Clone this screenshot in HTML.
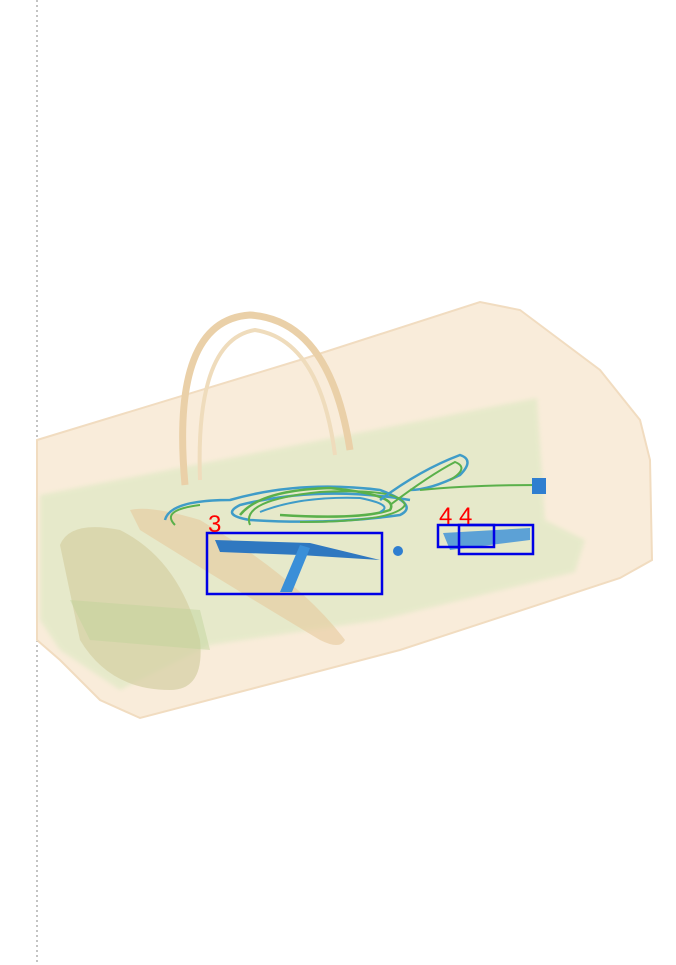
<!DOCTYPE html>
<html><head><meta charset="utf-8"><style>
html,body{margin:0;padding:0;background:#fff;width:676px;height:965px;overflow:hidden}
svg{display:block}
text{font-family:"Liberation Sans",sans-serif}
</style></head><body>
<svg width="676" height="965" viewBox="0 0 676 965">
<defs>
<filter id="blur1"><feGaussianBlur stdDeviation="2"/></filter>
</defs>
<line x1="37" y1="0" x2="37" y2="965" stroke="#888" stroke-width="1" stroke-dasharray="2 3"/>
<g>
<polygon points="37,440 300,360 480,302 520,310 600,370 640,420 650,460 652,560 620,578 400,650 140,718 100,700 60,660 37,640" fill="#f9ecda" stroke="#f1dcc0" stroke-width="2"/>
<polygon points="40,495 537,398 545,520 585,540 575,572 380,620 210,645 120,690 60,650 40,620" fill="#dfe9c4" opacity="0.7" filter="url(#blur1)"/>
<path d="M60,545 Q70,520 120,530 Q180,560 200,640 Q205,690 170,690 Q110,690 80,640 Z" fill="#d4cfa3" opacity="0.7"/>
<path d="M130,510 Q150,505 200,520 Q300,580 345,640 Q340,650 320,640 Q220,580 140,530 Z" fill="#e6c99c" opacity="0.6"/>
<path d="M70,600 L200,610 L210,650 L90,640 Z" fill="#bfd39a" opacity="0.45"/>
<path d="M185,485 Q170,320 250,315 Q330,320 350,450" fill="none" stroke="#ead0a8" stroke-width="7"/>
<path d="M200,480 Q195,340 255,330 Q320,340 335,455" fill="none" stroke="#efdcbc" stroke-width="4"/>
</g>
<g fill="none">
<path d="M165,520 Q170,500 230,500 Q300,480 380,490 Q420,505 400,515 Q330,525 250,520 Q220,515 240,505 Q320,485 410,500" stroke="#3f9cc8" stroke-width="2.5"/>
<path d="M240,515 Q260,490 330,488 Q400,495 390,510 Q360,520 280,515" stroke="#5ab04a" stroke-width="2.5"/>
<path d="M250,525 Q240,500 320,492 Q400,488 405,505 Q395,522 300,522" stroke="#5ab04a" stroke-width="2"/>
<path d="M260,512 Q300,496 360,498 Q395,505 380,512" stroke="#3f9cc8" stroke-width="2"/>
<path d="M175,525 Q160,510 200,505" stroke="#5ab04a" stroke-width="2"/>
<path d="M380,500 Q420,470 460,455 Q475,460 460,475 Q430,490 410,490" stroke="#3f9cc8" stroke-width="2.5"/>
<path d="M390,505 Q430,475 455,462 Q470,468 450,480" stroke="#5ab04a" stroke-width="2"/>
<path d="M420,490 Q470,485 540,485" stroke="#5ab04a" stroke-width="2"/>
<rect x="532" y="478" width="14" height="16" fill="#2f7ed0"/>
<circle cx="398" cy="551" r="5" fill="#2f7ed0"/>
</g>
<g>
<path d="M215,540 L310,543 L380,560 L300,555 L220,552 Z" fill="#2f78c0"/>
<path d="M300,545 L280,592 L292,592 L310,548 Z" fill="#3a8fd8"/>
</g>
<g>
<path d="M443,533 L530,528 L530,540 L450,550 Z" fill="#3a8fd8" opacity="0.8"/>
</g>
<g fill="none" stroke="#0000e6" stroke-width="2.5">
<rect x="207" y="533" width="175" height="61"/>
<rect x="438" y="525" width="56" height="22"/>
<rect x="459" y="525" width="74" height="29"/>
</g>
<g fill="#ff0000" font-size="24">
<text x="208" y="532">3</text>
<text x="439" y="524">4</text>
<text x="459" y="524">4</text>
</g>
</svg>
</body></html>
